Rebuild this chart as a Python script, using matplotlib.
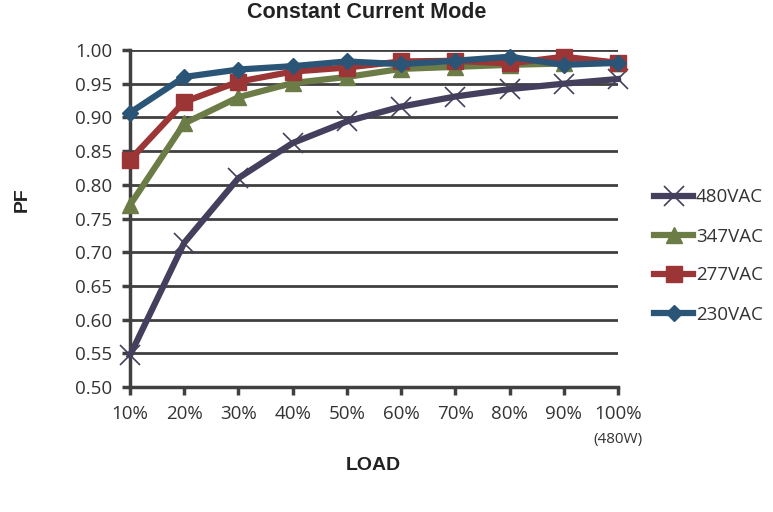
import numpy as np
import matplotlib.pyplot as plt
from matplotlib.lines import Line2D

# data
loads = ['10%', '20%', '30%', '40%', '50%', '60%', '70%', '80%', '90%', '100%']
pf_480 = [0.547, 0.714, 0.810, 0.862, 0.894, 0.916, 0.931, 0.942, 0.950, 0.957]
pf_347 = [0.770, 0.891, 0.930, 0.951, 0.960, 0.972, 0.975, 0.978, 0.980, 0.981]
pf_277 = [0.837, 0.923, 0.953, 0.968, 0.974, 0.983, 0.984, 0.980, 0.990, 0.981]
pf_230 = [0.907, 0.960, 0.971, 0.976, 0.983, 0.979, 0.984, 0.990, 0.978, 0.981]
series_names = ['480VAC', '347VAC', '277VAC', '230VAC']

c480 = '#433f5c'
c347 = '#6b7c46'
c277 = '#9c3535'
c230 = '#2b5577'
grid_col = '#404040'

plt.rcParams['font.family'] = ['Open Sans', 'DejaVu Sans']

fig = plt.figure(figsize=(7.73, 5.12), dpi=100)
ax = fig.add_axes([130/773, 1 - 387/512, 488/773, 337/512])

x = np.arange(len(loads))
ax.plot(x, pf_480, color=c480, lw=4.5, marker='x', ms=14, mew=1.2, mec=c480, zorder=3)
ax.plot(x, pf_347, color=c347, lw=4.5, marker='^', ms=11, zorder=4)
ax.plot(x, pf_277, color=c277, lw=4.5, marker='s', ms=12, zorder=5)
ax.plot(x, pf_230, color=c230, lw=4.5, marker='D', ms=8.5, zorder=6)

ax.set_xlim(0, 9)
ax.set_ylim(0.5, 1.0)
ax.set_yticks(np.arange(0.5, 1.001, 0.05))
ax.set_yticklabels(['%.2f' % v for v in np.arange(0.5, 1.001, 0.05)])
ax.set_xticks(x)
ax.set_xticklabels(loads)
ax.yaxis.grid(True, color=grid_col, lw=2)
ax.set_axisbelow(True)
for s in ['top', 'right']:
    ax.spines[s].set_visible(False)
for s in ['left', 'bottom']:
    ax.spines[s].set_color(grid_col)
    ax.spines[s].set_linewidth(2.5)
ax.tick_params(axis='both', colors=grid_col, width=2.5, length=6, labelsize=13.5,
               labelcolor='#333333', pad=7)
for ln in ax.lines:
    ln.set_clip_on(False)

ax.text(9, -0.135, '(480W)', transform=ax.get_xaxis_transform(), ha='center',
        va='top', fontsize=11, color='#333333')

fig.text(367/773, 1 - 12/512, 'Constant Current Mode', ha='center', va='center',
         fontsize=15.5, fontweight='bold', color='#222222',
         family=['Liberation Sans Narrow', 'Liberation Sans'])
fig.text(22/773, 1 - 200/512, 'PF', ha='center', va='center', fontsize=14,
         fontweight='bold', rotation=90, color='#222222', family=['Liberation Sans'])
fig.text(373/773, 1 - 466/512, 'LOAD', ha='center', va='center', fontsize=14,
         fontweight='bold', color='#222222', family=['Liberation Sans'])

handles = [
    Line2D([], [], color=c480, lw=4.5, marker='x', ms=14, mew=1.2),
    Line2D([], [], color=c347, lw=4.5, marker='^', ms=11),
    Line2D([], [], color=c277, lw=4.5, marker='s', ms=12),
    Line2D([], [], color=c230, lw=4.5, marker='D', ms=8.5),
]
fig.legend(handles, series_names, loc='center left', bbox_to_anchor=(637/773, 1 - 256/512),
           frameon=False, fontsize=13.5, handlelength=2.1, labelspacing=1.12,
           handletextpad=0.15, labelcolor='#333333')

fig.savefig('out.png', dpi=100)
